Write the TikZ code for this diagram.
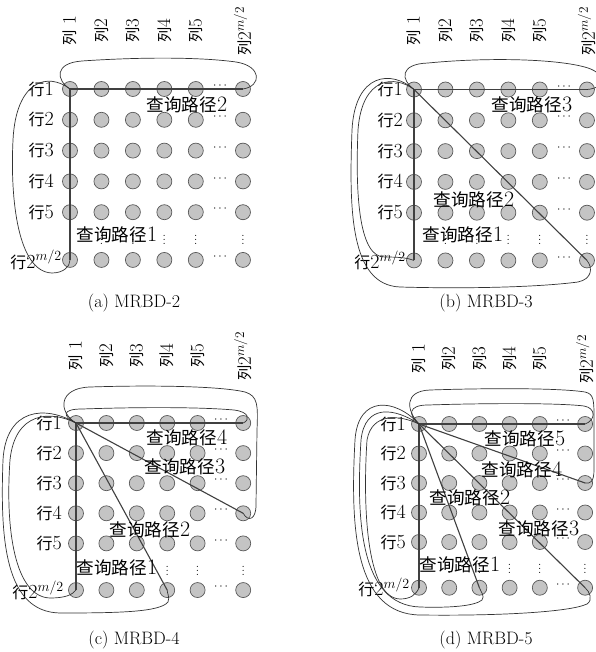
\RequirePackage{fix-cm}
\documentclass[tikz,border=0pt]{standalone}
\usepackage{fontspec}
\newfontfamily\cjk[Scale=0.8]{Noto Sans CJK SC}
\tikzset{
  dotnode/.style={circle, draw=black!65, fill=black!23, line width=0.7pt, minimum size=15pt, inner sep=0pt},
  pline/.style={draw=black!75, line width=1.1pt},
  loopline/.style={draw=black!80, line width=0.7pt},
  rowlab/.style={font=\fontsize{20}{24}\selectfont, inner sep=0pt, anchor=east},
  collab/.style={font=\fontsize{19}{22}\selectfont, inner sep=0pt, rotate=90},
  plab/.style={font=\fontsize{22}{26}\selectfont, inner sep=0pt},
  caplab/.style={font=\fontsize{18}{22}\selectfont, inner sep=0pt},
  hdotsty/.style={font=\fontsize{12}{14}\selectfont, inner sep=0pt},
  vdotsty/.style={font=\fontsize{12}{14}\selectfont, inner sep=0pt}
}
\newcommand{\gridpanel}[5]{%
  \foreach \ri/\ry in {1/0,2/1,3/2,4/3,5/4,6/5.55}{%
    \foreach \ci/\cx in {1/0,2/1,3/2,4/3,5/4,6/5.5}{%
      \node[dotnode] (#1-\ri-\ci) at ({#2+\cx*#4},{#3+\ry*#5}) {};
    }
    \node[hdotsty] (#1-h-\ri) at ({#2+4.77*#4},{#3+\ry*#5-3}) {$\cdots$};
  }
  \foreach \ci/\cx in {1/0,2/1,3/2,4/3,5/4,6/5.5}{%
    \node[vdotsty] (#1-v-\ci) at ({#2+\cx*#4},{#3+4.8*#5}) {$\vdots$};
  }
}
\newcommand{\rowlabels}[5]{%
  \foreach \ri in {1,...,5}{%
    \node[rowlab] (#1-rl-\ri) at ({#2},{#3+(\ri-1)*#4}) {{\cjk 行}\ri};
  }
  \node[rowlab] (#1-rl-6) at ({#5},{#3+5.55*#4}) {{\cjk 行}$2^{m/2}$};
}
\newcommand{\collabels}[4]{%
  \node[collab] (#1-cl-1) at ({#2},{#4}) {{\cjk 列} 1};
  \foreach \ci in {2,...,5}{%
    \node[collab] (#1-cl-\ci) at ({#2+(\ci-1)*#3},{#4}) {{\cjk 列}\ci};
  }
  \node[collab] (#1-cl-6) at ({#2+5.5*#3},{#4}) {{\cjk 列}$2^{m/2}$};
}
\begin{document}
\begin{tikzpicture}[x=1pt,y=-1pt]
\useasboundingbox (0,0) rectangle (595,652);
\fill[white] (0,0) rectangle (595,652);

% ---------------- grids ----------------
\gridpanel{a}{70}{89}{31.45}{30.8}
\gridpanel{b}{414}{89.5}{31.45}{30.8}
\gridpanel{c}{76}{423}{30.4}{30.1}
\gridpanel{d}{419}{424}{30.2}{29.5}

\rowlabels{a}{54}{89}{30.8}{62}
\rowlabels{b}{403}{89.5}{30.8}{406}
\rowlabels{c}{62}{423}{30.1}{64}
\rowlabels{d}{406}{424}{29.5}{410}

\collabels{a}{70}{31.45}{31}
\collabels{b}{414}{31.45}{31}
\collabels{c}{76}{30.4}{356}
\collabels{d}{419}{30.2}{359}

% ---------------- panel (a) ----------------
\draw[pline] (a-1-1.center) -- (a-1-6.center);
\draw[pline] (a-1-1.center) -- (a-6-1.center);
\draw[loopline] (a-1-1.center) .. controls (56,80) and (54,63) .. (82,61)
  .. controls (140,57) and (200,57) .. (236,62)
  .. controls (262,66) and (262,86) .. (a-1-6.center);
\draw[loopline] (a-1-1.center) .. controls (48,72) and (16,80) .. (13,140)
  .. controls (10,200) and (18,272) .. (52,273)
  .. controls (64,273) and (70,266) .. (a-6-1.center);
\node[plab] (a-p2) at (187,105) {{\cjk 查询路径}2};
\node[plab] (a-p1) at (117,235) {{\cjk 查询路径}1};
\node[caplab] (a-cap) at (134,303) {(a) MRBD-2};

% ---------------- panel (b) ----------------
\draw[pline] (b-1-1.center) -- (b-1-6.center);
\draw[pline] (b-1-1.center) -- (b-6-1.center);
\draw[pline] (b-1-1.center) -- (b-6-6.center);
\draw[loopline] (b-1-1.center) .. controls (401,80) and (399,64) .. (428,63)
  .. controls (490,57) and (560,59) .. (588,68)
  .. controls (606,74) and (606,88) .. (b-1-6.center);
\draw[loopline] (b-1-1.center) .. controls (395,75) and (362,76) .. (358,130)
  .. controls (355,200) and (360,258) .. (385,257)
  .. controls (400,257) and (408,258) .. (b-6-1.center);
\draw[loopline] (b-1-1.center) .. controls (392,70) and (355,72) .. (352,130)
  .. controls (349,210) and (350,285) .. (400,287)
  .. controls (470,289) and (540,287) .. (578,282)
  .. controls (592,279) and (593,268) .. (b-6-6.center);
\node[plab] (b-p3) at (532,105) {{\cjk 查询路径}3};
\node[plab] (b-p2) at (474,200) {{\cjk 查询路径}2};
\node[plab] (b-p1) at (463,235) {{\cjk 查询路径}1};
\node[caplab] (b-cap) at (486,303) {(b) MRBD-3};

% ---------------- panel (c) ----------------
\draw[pline] (c-1-1.center) -- (c-1-6.center);
\draw[pline] (c-1-1.center) -- (c-6-1.center);
\draw[pline] (c-1-1.center) -- (c-6-4.center);
\draw[pline] (c-1-1.center) -- (c-4-6.center);
\draw[loopline] (c-1-1.center) .. controls (62,416) and (62,409) .. (82,409)
  .. controls (140,407) and (200,407) .. (234,410)
  .. controls (250,412) and (250,420) .. (c-1-6.center);
\draw[loopline] (c-1-1.center) .. controls (58,412) and (58,388) .. (90,387)
  .. controls (150,385) and (220,386) .. (245,392)
  .. controls (258,396) and (258,405) .. (257,430)
  -- (256,505) .. controls (256,520) and (248,522) .. (c-4-6.center);
\draw[loopline] (c-1-1.center) .. controls (50,410) and (15,412) .. (10,460)
  .. controls (5,530) and (15,597) .. (50,598)
  .. controls (65,598) and (72,595) .. (c-6-1.center);
\draw[loopline] (c-1-1.center) .. controls (45,405) and (6,408) .. (3,460)
  .. controls (0,540) and (5,612) .. (60,613)
  .. controls (120,613) and (160,612) .. (168,602)
  .. controls (170,597) and (167,593) .. (c-6-4.center);
\node[plab] (c-p4) at (187,438) {{\cjk 查询路径}4};
\node[plab] (c-p3) at (185,467) {{\cjk 查询路径}3};
\node[plab] (c-p2) at (150,530) {{\cjk 查询路径}2};
\node[plab] (c-p1) at (117,568) {{\cjk 查询路径}1};
\node[caplab] (c-cap) at (134,640) {(c) MRBD-4};

% ---------------- panel (d) ----------------
\draw[pline] (d-1-1.center) -- (d-1-6.center);
\draw[pline] (d-1-1.center) -- (d-6-1.center);
\draw[pline] (d-1-1.center) -- (d-6-3.center);
\draw[pline] (d-1-1.center) -- (d-6-6.center);
\draw[pline] (d-1-1.center) -- (d-3-6.center);
\draw[loopline] (d-1-1.center) .. controls (408,415) and (408,405) .. (428,405)
  .. controls (490,403) and (560,403) .. (584,406)
  .. controls (596,408) and (596,420) .. (d-1-6.center);
\draw[loopline] (d-1-1.center) .. controls (406,410) and (404,391) .. (430,390)
  .. controls (490,388) and (560,388) .. (585,392)
  .. controls (594,394) and (594,400) .. (594,420)
  -- (594,470) .. controls (594,482) and (590,484) .. (d-3-6.center);
\draw[loopline] (d-1-1.center) .. controls (400,415) and (372,412) .. (367,440)
  .. controls (363,500) and (365,598) .. (400,599)
  .. controls (410,599) and (416,595) .. (d-6-1.center);
\draw[loopline] (d-1-1.center) .. controls (395,408) and (365,403) .. (361,440)
  .. controls (356,520) and (360,605) .. (420,607)
  .. controls (450,608) and (475,606) .. (482,600)
  .. controls (485,596) and (481,592) .. (d-6-3.center);
\draw[loopline] (d-1-1.center) .. controls (395,398) and (358,395) .. (355,440)
  .. controls (350,530) and (355,614) .. (420,615)
  .. controls (500,616) and (570,612) .. (587,604)
  .. controls (593,600) and (590,592) .. (d-6-6.center);
\node[plab] (d-p5) at (525,439) {{\cjk 查询路径}5};
\node[plab] (d-p4) at (522,470) {{\cjk 查询路径}4};
\node[plab] (d-p2) at (470,498) {{\cjk 查询路径}2};
\node[plab] (d-p3) at (539,529) {{\cjk 查询路径}3};
\node[plab] (d-p1) at (460,565) {{\cjk 查询路径}1};
\node[caplab] (d-cap) at (486,640) {(d) MRBD-5};
\end{tikzpicture}
\end{document}
